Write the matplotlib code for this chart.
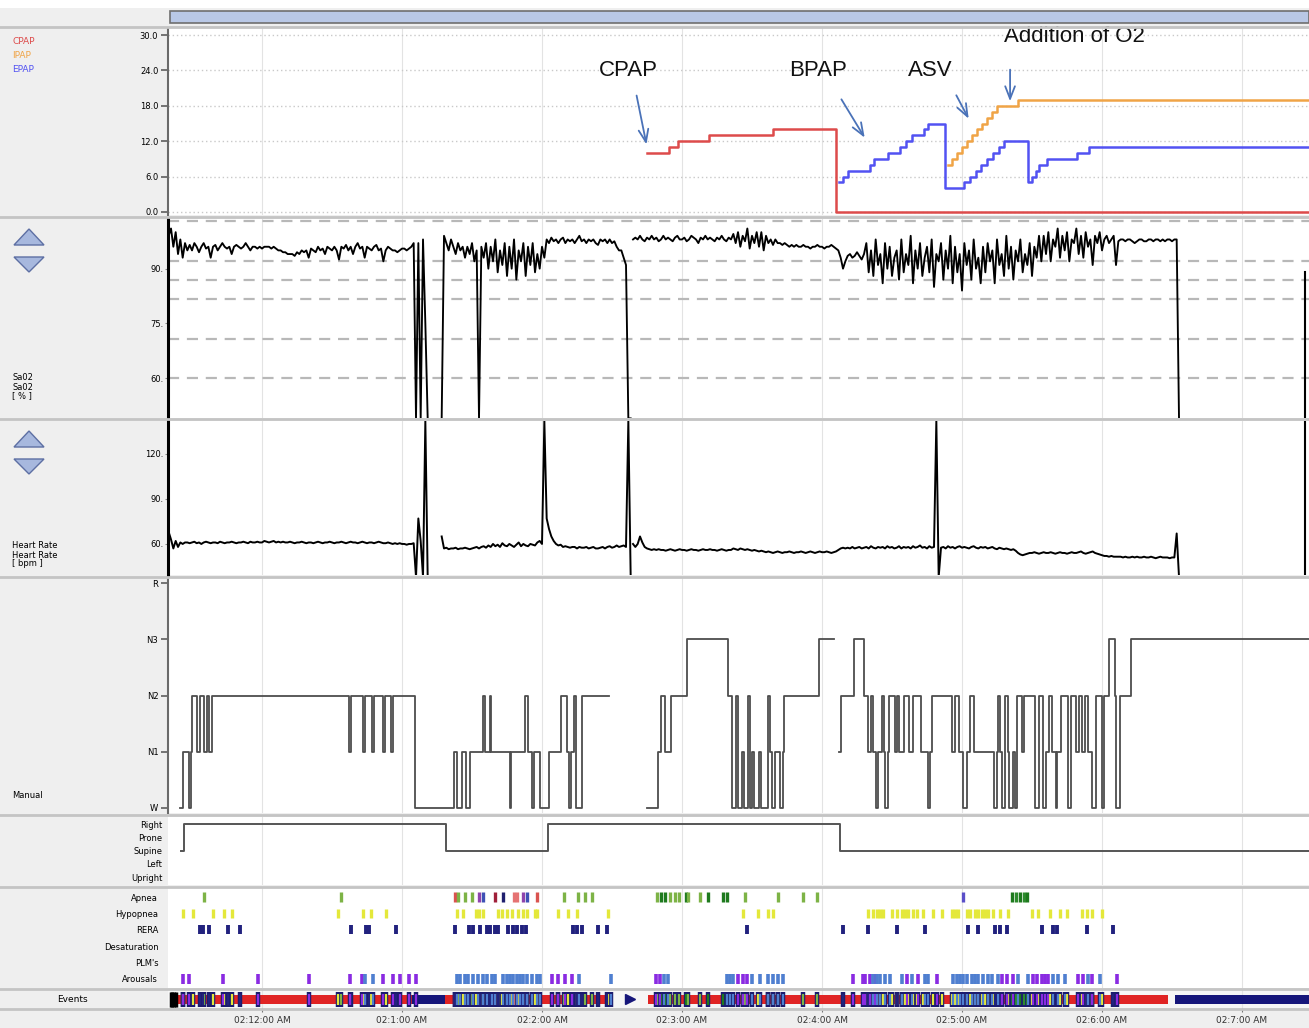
import numpy as np
import matplotlib
matplotlib.use("Agg")
import matplotlib.pyplot as plt
from matplotlib.lines import Line2D
from matplotlib.patches import Rectangle, Polygon

W, H = 1309, 1028
XL, XR = 168, 1309            # plot area, pixels
TMIN, TMAX = 19.71, 508.71    # minutes at the plot edges

RED = "#dd4b4b"
ORANGE = "#f0a446"
BLUE = "#5252f2"
ARROW = "#4a72b8"
GRID = "#e3e3e3"
BG = "#efefef"

# time axis (minutes)
tick_min = [60, 120, 180, 240, 300, 360, 420, 480]
tick_lbl = ["02:12:00 AM", "02:1:00 AM", "02:2:00 AM", "02:3:00 AM",
            "02:4:00 AM", "02:5:00 AM", "02:6:00 AM", "02:7:00 AM"]

# ---- titration pressures (minute of change, cmH2O) ----
cpap_t = [224.8, 234.3, 238.3, 251.6, 278.9, 306.2, 508.7]
cpap_v = [10, 11, 12, 13, 14, 0, 0]
epap_t = [307.2, 309.0, 311.0, 320.4, 322.4, 328.4, 333.5, 336.0, 338.6, 343.6,
          345.6, 352.8, 360.9, 363.4, 365.9, 368.3, 370.8, 373.2, 375.7, 378.1,
          388.2, 390.2, 391.8, 393.2, 396.3, 409.4, 414.6, 508.7]
epap_v = [5, 6, 7, 8, 9, 10, 11, 12, 13, 14,
          15, 4, 5, 6, 7, 8, 9, 10, 11, 12,
          5, 6, 7, 8, 9, 10, 11, 11]
ipap_t = [353.8, 355.9, 358.0, 360.1, 362.2, 364.4, 366.5, 368.6, 370.7, 372.8,
          375.0, 384.2, 508.7]
ipap_v = [8, 9, 10, 11, 12, 13, 14, 15, 16, 17, 18, 19, 19]

# annotations: label, text position, arrow tail, arrow head (minute, cmH2O)
notes = [("CPAP", (216.9, 24.0), (220.3, 20.2), (225.0, 11.0)),
         ("BPAP", (298.3, 24.0), (307.7, 19.5), (318.9, 12.2)),
         ("ASV", (346.3, 24.0), (357.0, 20.2), (363.4, 15.4)),
         ("Addition of O2", (408.0, 29.8), (380.6, 24.6), (380.6, 18.3))]

# ---- SaO2 (%), one sample per minute ----
sao2_1_start = 20
sao2_1 = [99, 101, 96, 100, 94, 98, 93, 97, 95,
          96.5, 95, 97, 96, 94.5, 96, 97, 95.5, 96, 93, 96, 96.5, 95, 96, 97, 96,
          95.5, 96, 94, 96, 96.5, 96, 95.5, 96, 97, 96, 95, 96, 96, 95.5, 96,
          95.5, 96, 96, 96, 95.5, 96, 95.5, 95, 95, 94.5, 94.5, 94, 94,
          94, 93.5, 94.5, 94, 95, 94.5, 95, 93, 95.5, 95, 94.5, 96, 95, 95.5, 94, 96, 95.5, 95,
          96, 95, 92.5, 96, 95.5, 96.5, 95, 96, 94, 96, 97, 95.5, 96, 93, 96, 95.5, 95, 96,
          96.5, 95, 95.5, 92, 95, 96, 95.5, 95, 95, 94.5, 95, 95.5, 95.5, 95, 95.5, 96, 97,
          49, 97, 49, 98, 75, 49]
sao2_2_start = 137
sao2_2 = [49, 99,
          97, 95, 98, 96, 94, 97, 95, 96, 93, 96, 94, 97, 92, 95,
          49, 96,
          93, 97, 90, 96, 92, 98, 89, 95, 91, 97, 88, 96, 90, 98, 87, 95, 92, 97, 88, 96,
          91, 97, 89, 94, 90, 96, 93,
          98, 97, 98.5, 97.5, 98, 97, 98, 98.5, 97, 98, 97.5, 98, 97, 98, 99, 97.5, 98, 97,
          98, 97.5, 98, 97, 96.5, 98, 97.5, 98, 97, 98, 97, 97.5, 96, 95,
          95, 93, 91, 49, 49]
sao2_3_start = 219
sao2_3 = [98,
          98.5, 98, 99, 98, 97.5, 98.5, 98, 99, 98, 98.5, 97.5, 98, 99, 98, 98.5, 98, 97.5, 98.5,
          99, 98, 98, 98.5, 97.5, 98, 99, 98.5, 98, 97, 98.5, 98, 99, 98, 98.5, 98, 97.5, 98.5,
          98, 99, 98, 97.5, 98.5, 98, 99.5, 97, 100, 96, 99, 97.5, 101, 95.5, 99, 97, 100,
          96, 100, 95, 99, 97, 98, 96.5, 98, 97,
          97, 96.5, 97, 96.5, 96, 96.5, 96, 96.5, 96, 96, 96.5, 96, 96, 95.5, 96, 96, 96.5,
          96, 96, 95.5, 96, 96, 96.5, 96, 95.5, 95,
          93, 90, 92, 93.5, 94, 93, 93.5, 94.5, 93.5, 92.5, 94,
          97, 89, 95, 88, 98, 91, 94, 86, 97, 90, 96, 88, 93, 95, 87, 98, 89, 94, 91, 99,
          86, 95, 90, 97, 88, 93, 96, 89, 98, 85, 94, 92, 97, 87, 95, 90, 99, 86, 96, 89,
          94, 84, 97, 91, 95, 87, 98, 90, 93, 86, 96, 89, 97, 92, 95, 86, 98, 91, 94, 88,
          99, 90, 96, 87, 95, 92, 98, 89, 94, 91, 97, 88, 96, 93, 99, 92,
          99, 94, 100, 92, 98, 96, 101, 93, 99, 95, 100, 92, 98, 97, 101, 94, 99, 93, 100, 96,
          98, 91, 99, 97, 100, 95, 98, 99, 97, 98, 99, 91, 97.5,
          98, 98, 97.5, 98, 98, 97.5, 97, 97.5, 98, 98, 97.5, 97.5, 98, 98, 97.5, 98, 98, 97.5,
          98, 97.5, 98, 98, 97.5, 98, 98,
          49]
sao2_tail_t = [507.0, 507.0]
sao2_tail_v = [89, 49]
sao2_dash = [103, 92.2, 87.0, 81.8, 70.6, 60]

# ---- Heart rate (bpm), one sample per minute ----
hr_1_start = 20
hr_1 = [68, 63, 57, 62, 58, 61, 60, 61,
        61, 60.5, 61, 61.5, 60.5, 61, 60, 61, 61.5, 61, 60.5, 61, 61, 60.5, 61.5, 61, 60.5,
        61, 61, 61.5, 61, 60.5, 61, 61, 61.5, 61, 60.5, 61.5, 61, 61, 61.5, 61, 61, 62,
        61.5, 61, 61.5, 62, 61, 61.5, 61, 61.5, 61, 61, 61.5, 61, 60.5, 61, 61, 61.5, 61,
        60.5, 61, 61, 60.5, 61, 61.5, 61, 60.5, 61, 61, 61.5, 61, 60.5, 61, 61, 61.5, 61,
        60.5, 61, 61.5, 61, 61, 60.5, 61, 61.5, 61, 60.5, 61, 61, 60.5, 61, 61.5, 61, 60.5,
        60.5, 61, 60.5, 60, 60.5, 60, 60.5, 60, 60, 59.5, 60, 60, 60.5,
        38, 77, 62, 38, 142, 38]
hr_2_start = 137
hr_2 = [65,
        57, 57.5, 56.5, 57, 57, 57.5, 56.5, 57, 57, 57.5, 57, 56.5, 57, 57.5, 58, 57, 58,
        58.5, 57.5, 59, 58, 60, 58.5, 59.5, 58, 60.5, 59, 58.5, 60, 59, 58, 59.5, 61, 58.5,
        60, 59, 58.5, 60, 59.5, 59, 61, 62, 60,
        142, 77, 70, 65, 62,
        60, 59, 59.5, 58, 58.5, 58, 57.5, 58, 58, 57, 58, 57.5, 57.5, 58, 57, 57.5, 58, 57,
        57, 57.5, 58, 57, 58, 58.5, 57.5, 58, 59, 58, 58.5, 59, 58,
        142, 38]
hr_3_start = 219
hr_3 = [60, 58, 60, 65, 61,
        58, 57, 56.5, 56, 56.5, 56, 56.5, 56, 56, 55.5, 56, 56.5, 56, 55.5, 56, 56.5, 56,
        56, 55.5, 56, 56.5, 56, 56, 55.5, 56, 56.5, 56, 56, 56.5, 56, 56, 55.5, 56, 56.5,
        56, 55.5, 56,
        56, 57, 56.5, 56, 57, 56.5, 56, 56.5, 56, 55.5, 56, 55.5, 55, 55.5, 55,
        54.5, 55, 54.5, 54, 54.5, 55, 54.5, 54, 54.5, 54.5, 55, 54.5, 54, 54.5, 54.5, 55,
        54.5, 54, 54.5, 55, 54.5, 54, 54.5, 55, 54.5, 54.5, 55, 54.5, 54, 54.5, 55, 56,
        57, 57.5, 57, 57.5, 57, 58, 57, 57.5, 58, 57, 57.5, 58, 57, 58.5, 57.5, 57, 58, 57.5,
        58, 57, 58.5, 57.5, 58, 57, 57.5, 58.5, 57, 58, 57.5, 58, 57, 58.5, 57.5, 58, 59,
        57.5, 58, 57, 58.5, 57.5, 58,
        142, 38,
        57.5, 58, 57, 58.5, 57.5, 58, 57, 58, 58.5, 57.5, 58, 57.5, 57, 58, 58.5, 57.5, 57,
        58, 57.5, 58, 57, 57.5, 58, 57, 56.5, 57.5, 57, 56.5, 57, 56.5, 56, 56.5, 55.5,
        54, 53, 52.5, 53, 53.5, 54,
        54, 54.5, 54, 53.5, 54, 54.5, 54, 54, 54.5, 54, 53.5, 54, 54.5, 54, 54, 53.5, 54,
        54.5, 54, 54, 54.5, 55, 54, 53.5, 54, 54.5, 55, 54, 53.5, 53, 52.5, 52, 52, 51.5,
        52, 51.5, 51.5, 51.5,
        51.5, 51, 51.5, 51, 51, 51.5, 51, 51.5, 51, 51, 51.5, 51, 51, 51.5, 51, 50.5, 51,
        51.5, 51, 51, 51, 50.5, 51, 51,
        67, 38]
hr_tail_t = [507.0, 507.0]
hr_tail_v = [142, 38]

# ---- hypnogram: minute of change and stage ("-" = not scored) ----
hyp_t = [24.9, 26.1, 28.7, 29.4, 30.0, 32.1, 33.4, 35.1, 36.4, 37.3, 38.6,
         97.3, 98.1, 103.3, 104.1, 107.1, 108.0, 111.9, 112.7, 115.3, 116.1,
         125.4, 142.3, 143.6, 145.7, 147.4, 149.1, 154.5, 155.6, 157.5, 158.1,
         166.1, 166.9, 172.9, 173.8, 175.7, 176.6, 179.1, 183.2, 188.1, 190.7,
         191.6, 192.4, 193.5, 194.4, 197.1, 208.9,
         224.8, 229.5, 231.0, 232.7, 235.1, 242.1, 259.7, 261.3, 263.1, 264.0,
         265.7, 266.6, 268.3, 269.1, 270.0, 270.9, 273.0, 273.9, 276.9, 277.7,
         278.6, 279.9, 282.0, 283.3, 283.9, 298.6, 305.0, 307.3, 308.0, 313.7, 318.0,
         319.5, 321.0, 321.9, 323.1, 324.0, 325.7, 326.6, 327.2, 328.1, 328.7,
         331.1, 332.1, 333.0, 335.1, 337.3, 339.0, 342.4, 345.4, 346.3, 347.1,
         355.7, 357.0, 358.7, 360.4, 362.1, 363.4, 365.1, 373.9, 374.8, 375.4,
         376.3, 377.1, 378.6, 379.7, 380.1, 381.9, 382.7, 383.6, 385.7, 386.6,
         391.3, 393.0, 394.5, 396.0, 397.3, 398.6, 400.1, 400.9, 402.4, 405.6,
         406.5, 408.9, 410.1, 411.4, 412.7, 414.0, 415.9, 417.4, 420.0, 420.9,
         423.0, 425.6, 426.2, 427.9, 432.4, 508.7]
hyp_stage = ["W", "N1", "W", "N1", "N2", "N1", "N2", "N1", "N2", "N1", "N2",
             "N1", "N2", "N1", "N2", "N1", "N2", "N1", "N2", "N1", "N2",
             "W", "N1", "W", "N1", "W", "N1", "N2", "N1", "N2", "N1",
             "W", "N1", "N2", "N1", "W", "N1", "W", "N1", "N2", "N1",
             "W", "N1", "N2", "W", "N2", "-",
             "W", "N1", "N2", "N1", "N2", "N3", "N2", "W", "N2", "W",
             "N1", "W", "N2", "W", "N1", "W", "N1", "W", "N2", "N1",
             "W", "N1", "W", "N1", "N2", "N3", "-", "N1", "N2", "N3", "N2",
             "N1", "N2", "N1", "W", "N1", "N2", "N1", "W", "N1", "N2",
             "N1", "N2", "N1", "N2", "N1", "N2", "N1", "W", "N1", "N2",
             "N1", "N2", "N1", "W", "N1", "N2", "N1", "W", "N1", "N2",
             "N1", "W", "N2", "N1", "W", "N1", "W", "N2", "N1", "N2",
             "W", "N2", "W", "N1", "N2", "N1", "W", "N1", "N2", "W",
             "N2", "N1", "N2", "N1", "N2", "N1", "W", "N2", "W", "N2",
             "N3", "N2", "W", "N2", "N3", "N3"]
stage_names = ["W", "N1", "N2", "N3", "R"]

# ---- body position ----
pos_t = [25.3, 26.6, 138.9, 182.6, 307.7, 508.7]
pos_v = ["Supine", "Right", "Supine", "Right", "Supine", "Supine"]
pos_names = ["Upright", "Left", "Supine", "Prone", "Right"]

# ---- scored events (minute) ----
apnea_t = [35.1, 93.9, 142.7, 144.0, 147.0, 150.0, 153.0, 154.7, 159.9, 163.3,
           168.0, 169.3, 171.9, 173.6, 177.9, 189.4, 195.4, 198.4, 201.4, 229.3,
           231.0, 232.7, 234.9, 237.0, 238.7, 241.7, 242.6, 247.7, 251.1, 257.6,
           259.3, 267.0, 281.1, 291.9, 297.9, 360.4, 381.4, 383.1, 384.9, 386.6, 387.9]
apnea_c = ["#7db346", "#7db346", "#d9534f", "#7db346", "#7db346", "#7db346", "#8e44ad",
           "#3f51b5", "#a0203a", "#1f1f6e", "#e57373", "#e57373", "#8e44ad", "#3f51b5",
           "#d9534f", "#7db346", "#7db346", "#7db346", "#7db346", "#7db346", "#1e7a1e",
           "#1e7a1e", "#7db346", "#7db346", "#7db346", "#1e7a1e", "#7db346", "#7db346",
           "#1e7a1e", "#1e7a1e", "#1e7a1e", "#7db346", "#7db346", "#7db346", "#7db346",
           "#5a4fc8", "#1e7a1e", "#2e8b2e", "#1e7a1e", "#2e8b2e", "#1e7a1e"]
hypop_t = [26.1, 30.4, 39.0, 43.7, 47.1, 92.6, 103.3, 106.7, 113.1, 143.6,
           146.1, 151.7, 153.0, 154.7, 161.1, 162.9, 165.0, 167.1, 169.7, 171.9,
           173.6, 177.0, 177.9, 186.9, 191.1, 195.0, 208.3, 266.1, 272.6, 276.9,
           279.0, 319.7, 321.9, 323.6, 324.9, 326.1, 330.0, 332.1, 334.3, 335.6,
           336.9, 339.0, 340.7, 343.3, 347.6, 351.4, 355.7, 357.0, 358.3, 362.1,
           363.4, 365.6, 366.9, 368.6, 369.9, 371.1, 373.3, 376.3, 379.7, 390.0,
           392.6, 397.7, 402.0, 405.0, 411.4, 413.6, 415.7, 420.0]
rera_t = [33.4, 34.7, 37.3, 45.4, 50.6, 98.1, 104.6, 105.9, 117.4, 142.7,
          148.7, 150.4, 153.4, 156.4, 157.7, 159.9, 161.1, 165.4, 167.6, 169.3,
          171.4, 173.1, 193.3, 195.0, 197.1, 204.0, 207.9, 267.9, 309.0, 319.7,
          332.1, 344.1, 362.6, 366.9, 374.1, 376.3, 379.3, 394.3, 399.0, 400.7,
          413.6, 424.7]
arousal_violet_t = [26.1, 28.7, 43.3, 58.3, 80.1, 97.7, 102.9, 111.9, 116.1, 119.1,
                    123.0, 126.0, 184.3, 186.9, 189.9, 192.9, 228.9, 230.6, 264.0, 266.1,
                    267.9, 313.3, 317.6, 318.4, 320.6, 322.7, 336.4, 341.1, 349.3, 377.1,
                    379.3, 381.9, 390.4, 392.1, 394.3, 395.6, 396.9, 409.7, 411.9, 415.7,
                    426.4]
arousal_blue_t = [104.1, 107.6, 143.6, 144.9, 147.0, 148.3, 150.4, 152.6, 154.7, 156.4,
                  158.6, 159.9, 163.3, 165.0, 166.3, 167.6, 169.3, 170.6, 171.9, 173.6,
                  175.7, 177.9, 179.1, 195.9, 209.6, 232.3, 234.0, 259.3, 260.6, 261.9,
                  270.0, 273.4, 276.9, 279.0, 281.1, 283.3, 321.9, 323.6, 324.9, 327.0,
                  329.1, 334.3, 338.6, 344.1, 345.4, 356.1, 357.9, 359.1, 360.4, 362.1,
                  364.3, 365.6, 366.9, 369.0, 371.1, 372.9, 375.4, 384.0, 388.3, 399.0,
                  401.1, 404.1, 414.0, 419.1]
event_rows = ["Arousals", "PLM's", "Desaturation", "RERA", "Hypopnea", "Apnea"]

# events summary bar: (start, length) of the coloured bands
bar_red = [(20.6, 103.7), (138.4, 71.6), (225.4, 222.9)]
bar_navy = [(124.3, 14.1), (451.3, 57.4)]
bar_black_t = [20.8, 21.5, 22.2, 23.0]
bar_marker_t = [217.5]

# ---------------------------------------------------------------
fig = plt.figure(figsize=(W / 100, H / 100), dpi=100, facecolor=BG)


def add_ax(top, bottom, face="white"):
    ax = fig.add_axes([XL / W, 1 - bottom / H, (XR - XL) / W, (bottom - top) / H],
                      facecolor=face)
    ax.set_xlim(TMIN, TMAX)
    ax.set_xticks([])
    for s in ["top", "right", "bottom"]:
        ax.spines[s].set_visible(False)
    for t in tick_min:
        ax.axvline(t, color=GRID, lw=0.8, zorder=0)
    return ax


def ftext(x, y, s, **kw):
    fig.text(x / W, 1 - y / H, s, **kw)


def seg(start, vals):
    return start + np.arange(len(vals)), np.array(vals, dtype=float)


# top strip and scroll bar
fig.add_artist(Rectangle((0, 1 - 8 / H), 1, 8 / H, transform=fig.transFigure,
                         facecolor="white", edgecolor="none"))
fig.add_artist(Rectangle((170 / W, 1 - 23 / H), (W - 170) / W, 12 / H,
                         transform=fig.transFigure, facecolor="#b9c8e6",
                         edgecolor="#6f6f6f", lw=1.2))

# --- pressure panel ---
ax_p = add_ax(28, 215)
ax_p.set_ylim(-0.51, 31.19)
ax_p.set_yticks([0, 6, 12, 18, 24, 30])
ax_p.set_yticklabels(["0.0", "6.0", "12.0", "18.0", "24.0", "30.0"])
for v in [0, 6, 12, 18, 24, 30]:
    ax_p.axhline(v, color="#c9c9c9", lw=1, linestyle=(0, (1, 2)), zorder=0)
ax_p.step(cpap_t, cpap_v, where="post", color=RED, lw=1.8)
ax_p.step(ipap_t, ipap_v, where="post", color=ORANGE, lw=1.8)
ax_p.step(epap_t, epap_v, where="post", color=BLUE, lw=1.8)
for label, txy, tail, head in notes:
    ax_p.text(txy[0], txy[1], label, ha="center", va="center", fontsize=16,
              family="Liberation Sans", color="#111111")
    ax_p.annotate("", xy=head, xytext=tail,
                  arrowprops=dict(arrowstyle="->,head_length=0.9,head_width=0.35",
                                  color=ARROW, lw=1.3))
ftext(12, 42, "CPAP", fontsize=6.5, color=RED, va="center")
ftext(12, 56, "IPAP", fontsize=6.5, color=ORANGE, va="center")
ftext(12, 70, "EPAP", fontsize=6.5, color=BLUE, va="center")

# --- SaO2 panel ---
ax_s = add_ax(219, 418)
ax_s.set_ylim(49.1, 103.6)
ax_s.set_yticks([60, 75, 90])
ax_s.set_yticklabels(["60.", "75.", "90."])
for v in sao2_dash:
    ax_s.axhline(v, color="#b8b8b8", lw=1.6, linestyle=(0, (5, 3.5)), zorder=1)
for st, vals in [(sao2_1_start, sao2_1), (sao2_2_start, sao2_2), (sao2_3_start, sao2_3)]:
    t, v = seg(st, vals)
    ax_s.plot(t, v, color="black", lw=1.35, zorder=3)
ax_s.plot(sao2_tail_t, sao2_tail_v, color="black", lw=1.5, zorder=3)
ftext(12, 387, "Sa02\nSa02\n[ % ]", fontsize=6, va="center", linespacing=1.0)

# --- heart rate panel ---
ax_h = add_ax(421, 575)
ax_h.set_ylim(39.3, 142)
ax_h.set_yticks([60, 90, 120])
ax_h.set_yticklabels(["60.", "90.", "120."])
for st, vals in [(hr_1_start, hr_1), (hr_2_start, hr_2), (hr_3_start, hr_3)]:
    t, v = seg(st, vals)
    ax_h.plot(t, v, color="black", lw=1.4, zorder=3)
ax_h.plot(hr_tail_t, hr_tail_v, color="black", lw=1.5, zorder=3)
ftext(12, 555, "Heart Rate\nHeart Rate\n[ bpm ]", fontsize=6, va="center", linespacing=1.0)

for ax in (ax_s, ax_h):
    ax.spines["left"].set_color("black")
    ax.spines["left"].set_linewidth(2.2)
    ax.tick_params(axis="y", length=2, labelsize=6, pad=1, color="#888888")

# up / down buttons
for up_y, dn_y in [(229, 257), (431, 459)]:
    for pts in ([(14, up_y + 16), (29, up_y), (44, up_y + 16)],
                [(14, dn_y), (44, dn_y), (29, dn_y + 15)]):
        fig.add_artist(Polygon([(x / W, 1 - y / H) for x, y in pts], closed=True,
                               transform=fig.transFigure, facecolor="#a7b8de",
                               edgecolor="#5d6fa3", lw=1))

# --- hypnogram ---
ax_y = add_ax(578, 813)
ax_y.set_ylim(-0.09, 4.09)
ax_y.set_yticks(range(5))
ax_y.set_yticklabels(stage_names)
hyp_v = [np.nan if s == "-" else stage_names.index(s) for s in hyp_stage]
ax_y.step(hyp_t, hyp_v, where="post", color="#4d4d4d", lw=1.3)
ftext(12, 796, "Manual", fontsize=6, va="center")

for ax in (ax_p, ax_y):
    ax.spines["left"].set_color("#6a6a6a")
    ax.spines["left"].set_linewidth(1.5)
    ax.tick_params(axis="y", length=5, width=1.3, color="#6a6a6a", labelsize=6, pad=2)

# --- body position ---
ax_o = add_ax(817, 885)
ax_o.set_ylim(-0.6, 4.53)
ax_o.set_yticks(range(5))
ax_o.set_yticklabels(pos_names)
ax_o.spines["left"].set_visible(False)
ax_o.tick_params(axis="y", length=0, labelsize=6, pad=4)
ax_o.step(pos_t, [pos_names.index(p) for p in pos_v], where="post",
          color="#555555", lw=1.4)

# --- event rows ---
ax_e = add_ax(888, 988)
ax_e.set_ylim(-0.55, 5.55)
ax_e.set_yticks(range(6))
ax_e.set_yticklabels(event_rows)
ax_e.spines["left"].set_visible(False)
ax_e.tick_params(axis="y", length=0, labelsize=6, pad=7)
ax_e.vlines(apnea_t, 4.72, 5.28, colors=apnea_c, lw=2.4)
ax_e.vlines(hypop_t, 3.72, 4.28, colors="#e4e83a", lw=2.4)
ax_e.vlines(rera_t, 2.72, 3.28, colors="#22227e", lw=2.8)
ax_e.vlines(arousal_violet_t, -0.28, 0.28, colors="#8a2be2", lw=2.6)
ax_e.vlines(arousal_blue_t, -0.28, 0.28, colors="#4f7fd0", lw=2.6)

# --- events summary bar ---
ax_b = add_ax(990, 1008, face="#f6f6f6")
ax_b.set_ylim(0, 1)
ax_b.set_yticks([])
ax_b.spines["left"].set_visible(False)
ax_b.broken_barh(bar_red, (0.2, 0.55), facecolors="#e02424", zorder=2)
ax_b.broken_barh(bar_navy, (0.2, 0.55), facecolors="#16167a", zorder=2)
all_ev = [(apnea_t, apnea_c), (hypop_t, "#e4e83a"), (rera_t, "#22227e"),
          (arousal_violet_t, "#8a2be2"), (arousal_blue_t, "#4f7fd0")]
for tt, cc in all_ev:
    ax_b.vlines(tt, 0.08, 0.9, colors="#1c1c6e", lw=3.2, zorder=3)
for tt, cc in all_ev:
    ax_b.vlines(tt, 0.18, 0.8, colors=cc, lw=1.6, zorder=4)
ax_b.vlines(bar_black_t, 0.08, 0.9, colors="black", lw=2.5, zorder=4)
ax_b.plot(bar_marker_t, [0.48], marker=">", ms=7, color="#16167a", ls="none", zorder=4)
ax_b.set_xticks(tick_min)
ax_b.set_xticklabels(tick_lbl)
ax_b.tick_params(axis="x", length=3, color="#777777", labelsize=6.5,
                 labelcolor="#333333", pad=3)
ftext(72, 999, "Events", fontsize=6.5, ha="center", va="center")

# panel separators
for y in [27, 216.5, 419, 576.5, 815, 886.5, 988.5, 1009]:
    fig.add_artist(Line2D([0, 1], [1 - y / H] * 2, transform=fig.transFigure,
                          color="#c4c4c4", lw=2))

fig.savefig("out.png", dpi=100, facecolor=BG)
